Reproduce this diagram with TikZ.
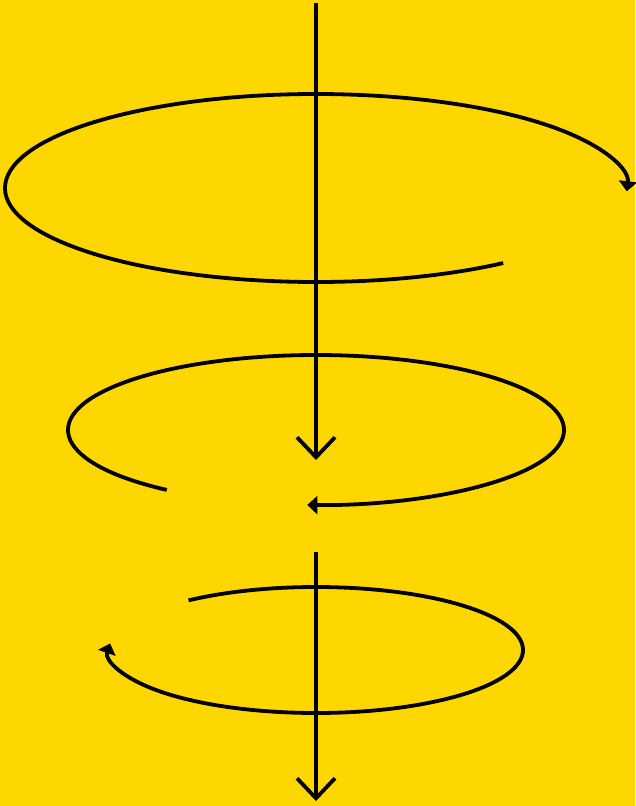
\documentclass[tikz,border=0pt]{standalone}
\usetikzlibrary{arrows.meta}
\definecolor{gold}{RGB}{255,215,0}

\begin{document}
\begin{tikzpicture}[x=1pt,y=-1pt,>=Stealth,
  axis/.style={line width=3.8pt,-{Straight Barb[length=20pt,width=38pt]}},
  spiral/.style={line width=3.8pt,-{Triangle[length=10pt,width=18pt]}}]
\fill[gold] (0,0) rectangle (635,806);
\useasboundingbox (0,0) rectangle (635,806);
% axis, top and bottom part
\coordinate (top) at (316,3);
\coordinate (mid) at (316,460);
\coordinate (gap) at (316,552);
\coordinate (bot) at (316,801);
\draw[axis] (top) -- (mid);
\draw[axis] (gap) -- (bot);
% three turns, shrinking
\coordinate (c1) at (316,188);
\coordinate (c2) at (316,430);
\coordinate (c3) at (316,650);
\draw[spiral] (c1) ++(53:311 and 94) arc[start angle=53,end angle=362,x radius=311,y radius=94];
\draw[spiral] (c2) ++(127:248 and 75) arc[start angle=127,end angle=452,x radius=248,y radius=75];
\draw[spiral] (c3) ++(232:207 and 63) arc[start angle=232,end angle=546,x radius=207,y radius=63];
\end{tikzpicture}
\end{document}
